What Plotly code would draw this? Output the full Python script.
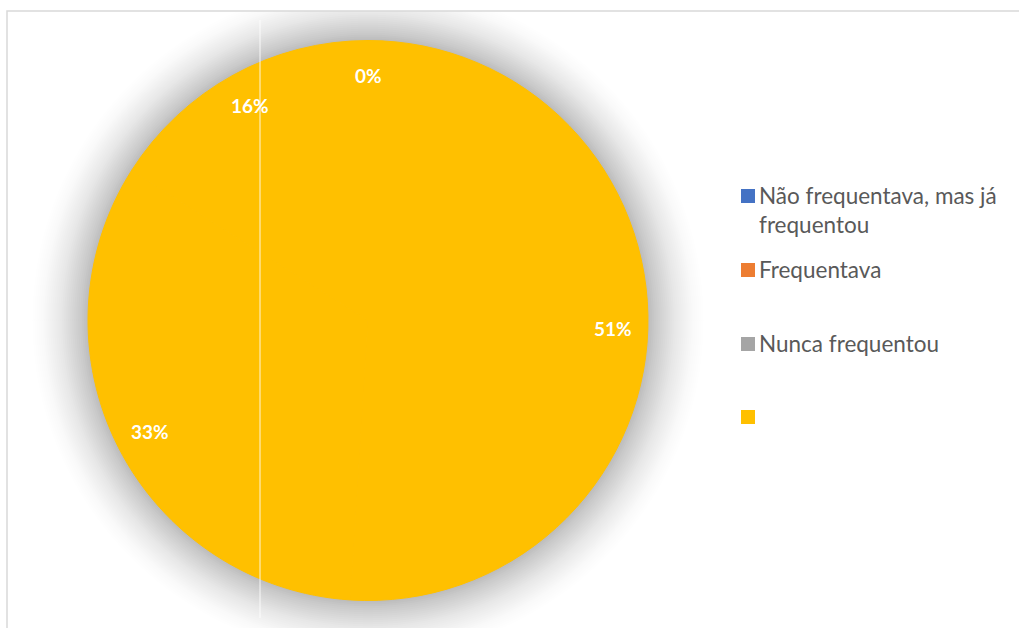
import numpy as np
import plotly.graph_objects as go

# Survey answers and their shares (%)
categories = ["Não frequentava, mas já frequentou", "Frequentava", "Nunca frequentou", ""]
legend_text = ["Não frequentava, mas já<br>frequentou", "Frequentava", "Nunca frequentou", ""]
shares = [0, 51, 33, 16]
legend_colors = ["#4472C4", "#ED7D31", "#A5A5A5", "#FFC000"]
slice_color = "#FFC000"

W, H = 1019, 628
CX, CY, R = 368, 320.5, 280  # pie centre / radius in pixels
FRAME_L, FRAME_T = 7, 11


def px_x(x):
    return x / W


def px_y(y):
    return 1 - y / H


dom_x = [px_x(CX - R), px_x(CX + R)]
dom_y = [px_y(CY + R), px_y(CY - R)]

fig = go.Figure()

fig.add_trace(go.Pie(
    labels=categories,
    values=shares,
    sort=False,
    direction="clockwise",
    rotation=0,
    marker=dict(colors=[slice_color] * len(shares),
                line=dict(color=slice_color, width=1)),
    textinfo="none",
    hoverinfo="label+percent",
    showlegend=False,
    domain=dict(x=dom_x, y=dom_y),
))

shapes = []
annotations = []

# soft shadow around the pie: stacked translucent discs, darkest at the rim
SPREAD = 58
EDGE_DARK = 0.23
steps = np.arange(SPREAD, 0, -2)
prev = 0.0
for d in steps:
    target = EDGE_DARK * (1 - (d - 2) / SPREAD) ** 1.5
    a = max(0.0, 1 - (1 - target) / (1 - prev))
    prev = target
    rr = R + d
    shapes.append(dict(
        type="circle", xref="paper", yref="paper", layer="below",
        x0=px_x(CX - rr), x1=px_x(CX + rr), y0=px_y(CY + rr), y1=px_y(CY - rr),
        fillcolor=f"rgba(0,0,0,{a:.4f})", line=dict(width=0),
    ))

# outside the chart frame the page stays plain white
shapes.append(dict(type="rect", xref="paper", yref="paper", layer="below",
                   x0=0, x1=1, y0=px_y(FRAME_T), y1=1,
                   fillcolor="white", line=dict(width=0)))
shapes.append(dict(type="rect", xref="paper", yref="paper", layer="below",
                   x0=0, x1=px_x(FRAME_L), y0=0, y1=1,
                   fillcolor="white", line=dict(width=0)))

# percentage labels at the middle angle of each slice
total = sum(shares)
cum = np.cumsum([0] + shares)
LABEL_R = 0.875 * R
for i, v in enumerate(shares):
    ang = np.deg2rad((cum[i] + cum[i + 1]) / 2 / total * 360)
    lx = CX + LABEL_R * np.sin(ang)
    ly = CY - LABEL_R * np.cos(ang)
    annotations.append(dict(
        xref="paper", yref="paper", x=px_x(lx), y=px_y(ly),
        xanchor="center", yanchor="middle", showarrow=False,
        text=f"<b>{round(v / total * 100)}%</b>",
        font=dict(family="Lato", size=19, color="white"),
    ))

# chart frame
shapes.append(dict(
    type="rect", xref="paper", yref="paper", layer="above",
    x0=px_x(FRAME_L), x1=px_x(W + 20), y0=px_y(H + 20), y1=px_y(FRAME_T),
    line=dict(color="#D9D9D9", width=1.5), fillcolor="rgba(0,0,0,0)",
))
# thin vertical rule
shapes.append(dict(
    type="line", xref="paper", yref="paper", layer="above",
    x0=px_x(260), x1=px_x(260), y0=px_y(618), y1=px_y(20),
    line=dict(color="rgba(255,255,255,0.85)", width=1),
))

# legend
legend_y = [196, 270, 344, 417]
for txt, col, ly in zip(legend_text, legend_colors, legend_y):
    shapes.append(dict(
        type="rect", xref="paper", yref="paper", layer="above",
        x0=px_x(741), x1=px_x(755), y0=px_y(ly + 7), y1=px_y(ly - 7),
        fillcolor=col, line=dict(width=0),
    ))
    if txt:
        annotations.append(dict(
            xref="paper", yref="paper", x=px_x(757), y=px_y(ly - 16),
            xanchor="left", yanchor="top", align="left", showarrow=False,
            text=txt, font=dict(family="Lato", size=22.5, color="#595959"),
        ))

fig.update_layout(
    width=W, height=H,
    margin=dict(l=0, r=0, t=0, b=0, pad=0),
    paper_bgcolor="white", plot_bgcolor="white",
    shapes=shapes, annotations=annotations,
    showlegend=False,
)

fig.write_html("out.html")
